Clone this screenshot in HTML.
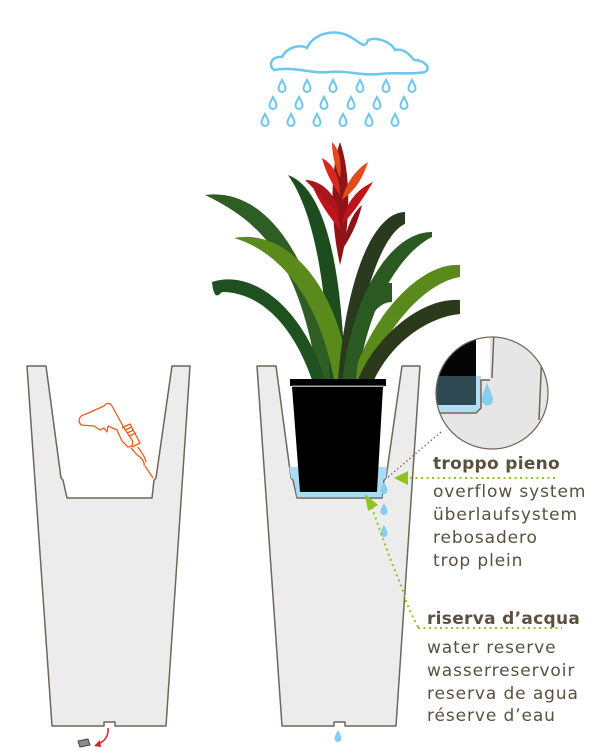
<!DOCTYPE html>
<html><head><meta charset="utf-8"><style>
html,body{margin:0;padding:0;background:#fff;width:600px;height:754px;overflow:hidden}
svg{display:block}
</style></head><body>
<svg width="600" height="754" viewBox="0 0 600 754" xmlns="http://www.w3.org/2000/svg">
<defs>
<clipPath id="mag"><circle cx="492" cy="393" r="56"/></clipPath>
<g id="drop"><path d="M0,-6 C2,-2 3.5,0 3.5,2.5 A3.5,3.5 0 0 1 -3.5,2.5 C-3.5,0 -2,-2 0,-6Z"/></g>
</defs>
<!-- cloud -->
<path d="M274,70 C268,66 271,56 282,57 C287,47 300,44 307,48 C314,32 338,28 352,38 C360,42 365,50 368,40 C380,36 392,44 395,50 C404,48 410,55 414,60 C424,60 432,68 425,72 C410,75 395,72 380,74 C360,76 345,70 330,72 C310,74 295,66 274,70Z" fill="none" stroke="#6cc6ee" stroke-width="2.5"/>
<g fill="none" stroke="#6cc6ee" stroke-width="2">
<g transform="translate(282,86)"><use href="#drop"/></g><g transform="translate(307,86)"><use href="#drop"/></g><g transform="translate(333,86)"><use href="#drop"/></g><g transform="translate(360,86)"><use href="#drop"/></g><g transform="translate(386,86)"><use href="#drop"/></g><g transform="translate(412,86)"><use href="#drop"/></g>
<g transform="translate(273,103)"><use href="#drop"/></g><g transform="translate(299,103)"><use href="#drop"/></g><g transform="translate(324,103)"><use href="#drop"/></g><g transform="translate(351,103)"><use href="#drop"/></g><g transform="translate(377,103)"><use href="#drop"/></g><g transform="translate(404,103)"><use href="#drop"/></g>
<g transform="translate(265,120)"><use href="#drop"/></g><g transform="translate(291,120)"><use href="#drop"/></g><g transform="translate(317,120)"><use href="#drop"/></g><g transform="translate(343,120)"><use href="#drop"/></g><g transform="translate(369,120)"><use href="#drop"/></g><g transform="translate(395,120)"><use href="#drop"/></g>
</g>
<!-- vases -->
<g fill="#ececec" stroke="#6f6657" stroke-width="1.5" stroke-linejoin="round">
<path d="M27,366 L46,366 L61,478 L63,480 L67,498 L152,498 L154,480 L156,478 L172,366 L190,366 L166,726 L115,726 L115,722 L104,722 L104,726 L52,726 Z"/>
<path transform="translate(230,0)" d="M27,366 L46,366 L61,478 L63,480 L67,498 L152,498 L154,480 L156,478 L172,366 L190,366 L166,726 L115,726 L115,722 L104,722 L104,726 L52,726 Z"/>
</g>
<!-- water -->
<path d="M289,467 L387,467 L386,478 L383,480 L382,497 L297,497 L294,480 L291,478 Z" fill="#a9dcf2"/>
<!-- plant leaves -->
<g>
<path d="M205,195 C255,188 310,235 335,380 L318,380 C300,262 262,222 205,195Z" fill="#2e5e24"/>
<path d="M288,175 C324,188 342,262 345,380 L330,380 C326,282 314,212 288,175Z" fill="#1d4d1e"/>
<path d="M234,238 C285,228 338,282 350,380 L334,380 C320,302 282,252 234,238Z" fill="#5a8a1c"/>
<path d="M212,282 C255,268 305,312 325,380 L312,380 C292,322 258,292 222,292 C218,296 214,300 212,282Z" fill="#1f5020"/>
<path d="M405,212 C378,212 348,262 338,380 L352,380 C362,282 386,232 405,224Z" fill="#2a3a1e"/>
<path d="M432,232 C388,232 350,302 343,380 L358,380 C368,302 402,252 432,237Z" fill="#2a5a22"/>
<path d="M460,265 C418,262 368,322 352,380 L367,380 C388,322 428,282 460,277Z" fill="#5a8a1c"/>
<path d="M460,300 C418,297 372,342 358,380 L374,380 C392,342 428,317 460,314Z" fill="#2c3a1c"/>
<path d="M392,283 C368,282 348,322 343,380 L356,380 C360,332 372,302 392,302Z" fill="#2a5a22"/>
</g>
<!-- flower -->
<g fill="#c0141c">
<path d="M340,142 C350,170 352,220 340,265 C330,220 330,170 340,142Z" fill="#8e1418"/>
<path d="M312,185 C330,190 340,210 340,230 C328,215 318,200 312,185Z"/>
<path d="M368,162 C355,170 345,185 342,200 C355,190 362,180 368,162Z" fill="#e04a1c"/>
<path d="M322,158 C335,165 340,180 340,195 C332,185 325,170 322,158Z" fill="#d6281c"/>
<path d="M373,182 C355,190 345,205 342,225 C356,210 365,195 373,182Z"/>
<path d="M305,180 C325,180 338,200 340,215 C325,200 315,190 305,180Z" fill="#a8161c"/>
<path d="M362,205 C350,215 345,235 342,250 C352,235 358,222 362,205Z" fill="#8e1418"/>
<path d="M332,142 C340,150 342,165 340,178 C334,165 332,152 332,142Z" fill="#e04a1c"/>
</g>
<!-- pot -->
<path d="M292,387 L383,387 L377,492 L300,492 Z" fill="#000"/>
<rect x="290" y="379" width="96" height="7" fill="#000"/>
<rect x="292" y="385" width="92" height="1.5" fill="#555"/>
<!-- magnifier -->
<g clip-path="url(#mag)">
<rect x="430" y="330" width="130" height="130" fill="#e6e6e6"/>
<rect x="430" y="330" width="50" height="80" fill="#2f4a52"/>
<rect x="430" y="330" width="46" height="46" fill="#050505"/>
<rect x="476" y="330" width="14" height="50" fill="#fff"/>
<rect x="476" y="376" width="5" height="34" fill="#b0dff3"/>
<path d="M430,405 L478,405 L478,412 L430,412Z" fill="#b0dff3"/>
<path d="M430,413 L476,413 L481,408 L481,380 L490,380" fill="none" stroke="#6f6657" stroke-width="1.5"/>
<path d="M494,330 L492,378" fill="none" stroke="#6f6657" stroke-width="1.5"/>
<path d="M542,350 L539,420" fill="none" stroke="#6f6657" stroke-width="1.5"/>
<path d="M487,382 C489,390 493,394 493,400 A5,5 0 0 1 482,400 C482,394 485,390 487,382Z" fill="#86cdef"/>
</g>
<circle cx="492" cy="393" r="56" fill="none" stroke="#6f6657" stroke-width="1.2"/>
<!-- drops -->
<g fill="#86cdef">
<g transform="translate(384,488)"><use href="#drop"/></g>
<g transform="translate(384,509)"><use href="#drop"/></g>
<g transform="translate(384,531)"><use href="#drop"/></g>
<g transform="translate(338,736)"><use href="#drop"/></g>
</g>
<!-- connectors -->
<path d="M441,432 L387,478" stroke="#6f6657" stroke-width="1.3" stroke-dasharray="1.5,2.5" fill="none"/>
<path d="M410,478 L556,478" stroke="#8fc31f" stroke-width="2" stroke-dasharray="2,3.5" fill="none"/>
<path d="M394,478 L408,471 L408,485Z" fill="#8fc31f"/>
<path d="M418,627 C410,612 405,600 402,588 C390,560 380,530 372,508" stroke="#8fc31f" stroke-width="2" stroke-dasharray="2,3.5" fill="none"/>
<path d="M365,494 L378,505 L368,511Z" fill="#8fc31f"/>
<path d="M418,628 L562,628" stroke="#8fc31f" stroke-width="2" stroke-dasharray="2,3.5" fill="none"/>
<!-- drill -->
<g fill="none" stroke="#f05a1e" stroke-width="1.3" stroke-linejoin="round">
<path d="M81,425 C77,420 80,415 86,414 L104,406 C106,403 110,402 112,406 L124,428 L132,440 C134,444 132,447 128,447 L122,441 L117,430 L108,426 L107,432 L104,428 L100,430 L94,426 Z"/>
<path d="M122,428 L130,424 L140,443 L132,447"/>
<path d="M125,430 L132,427 M127,433 L134,430 M129,436 L136,433"/>
<path d="M131,448 C135,452 136,455 140,457 C143,460 145,463 144,466"/>
<path d="M138,447 C141,452 145,456 146,462"/>
<path d="M145,466 L153,478"/>
</g>
<!-- plug -->
<path d="M78,741 L88,739 L90,745 L80,747Z" fill="#8a8a8a" stroke="#444" stroke-width="1"/>
<path d="M108,728 C109,736 104,742 98,744" fill="none" stroke="#d0202a" stroke-width="1.5"/>
<path d="M94,746 L100,740 L101,747Z" fill="#d0202a"/>
<!-- text -->
<g font-family="'DejaVu Sans','Liberation Sans',sans-serif" fill="#5a5040">
<text x="433" y="469" font-size="17" font-weight="bold" letter-spacing="0.3">troppo pieno</text>
<g font-size="17" letter-spacing="0.9">
<text x="433" y="497">overflow system</text>
<text x="433" y="520">überlaufsystem</text>
<text x="433" y="543">rebosadero</text>
<text x="433" y="566">trop plein</text>
</g>
<text x="427" y="624" font-size="17" font-weight="bold" letter-spacing="0.3">riserva d’acqua</text>
<g font-size="17" letter-spacing="0.9">
<text x="427" y="653">water reserve</text>
<text x="427" y="676">wasserreservoir</text>
<text x="427" y="699">reserva de agua</text>
<text x="427" y="721">réserve d’eau</text>
</g>
</g>
</svg>
</body></html>
